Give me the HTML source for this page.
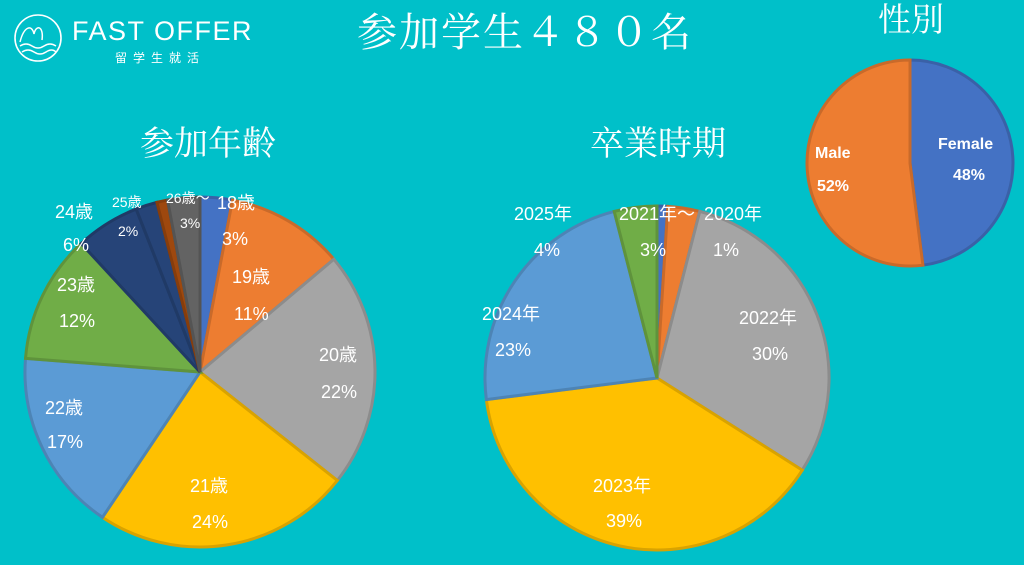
<!DOCTYPE html>
<html><head><meta charset="utf-8"><style>
html,body{margin:0;padding:0}
body{width:1024px;height:565px;background:#00c0c9;overflow:hidden;position:relative;font-family:"Liberation Sans","Noto Sans CJK JP",sans-serif}
.t{position:absolute;color:#fff;font-family:"Liberation Serif","Noto Serif CJK SC",serif;white-space:nowrap;line-height:1}
svg{position:absolute;left:0;top:0}
</style></head><body>
<div style="position:absolute;left:12px;top:12px;width:260px;height:50px">
<svg width="52" height="52" viewBox="0 0 52 52" style="left:0;top:0"><circle cx="26" cy="26" r="23" fill="none" stroke="#fff" stroke-width="1.6"/><path d="M8 30 C12 14 20 12 22 22 C24 12 32 14 30 28 M8 34 Q14 30 20 34 T32 34 T44 34 M10 40 Q16 36 22 40 T34 40 T44 40" fill="none" stroke="#fff" stroke-width="1.5"/></svg>
<div style="position:absolute;left:60px;top:4px;color:#fff;font-size:27px;letter-spacing:1.5px;font-family:'Liberation Sans',sans-serif">FAST OFFER</div>
<div style="position:absolute;left:103px;top:37px;color:#fff;font-size:12px;letter-spacing:6px;font-family:'Liberation Sans','Noto Sans CJK JP',sans-serif">留学生就活</div>
</div>
<div class="t" style="left:357px;top:13px;font-size:40px;letter-spacing:2px">参加学生４８０名</div>
<div class="t" style="left:140px;top:128px;font-size:34px">参加年齢</div>
<div class="t" style="left:590px;top:128px;font-size:34px">卒業時期</div>
<div class="t" style="left:878px;top:5px;font-size:33px">性別</div>
<svg id="chart" width="1024" height="565"></svg>
<script>
const ageCats=["18歳","19歳","20歳","21歳","22歳","23歳","24歳","25歳","other","26歳～"];
const ageVals=[3,11,22,24,17,12,6,2,1,3];
const ageColors=["#4472c4","#ed7d31","#a5a5a5","#ffc000","#5b9bd5","#70ad47","#264478","#264478","#9e480e","#636363"];
const gradCats=["2020年","2021年～","2022年","2023年","2024年","2025年"];
const gradVals=[1,3,30,39,23,4];
const gradColors=["#4472c4","#ed7d31","#a5a5a5","#ffc000","#5b9bd5","#70ad47"];
const genCats=["Female","Male"];
const genVals=[48,52];
const genColors=["#4472c4","#ed7d31"];
const ns="http://www.w3.org/2000/svg";
const svg=document.getElementById("chart");
function shade(c){const n=parseInt(c.slice(1),16);const f=v=>Math.round(v*0.85);return "rgb("+f(n>>16)+","+f((n>>8)&255)+","+f(n&255)+")";}
function pie(cx,cy,r,vals,cols,cats,name){
  const tot=vals.reduce((a,b)=>a+b,0);let a0=-Math.PI/2;
  vals.forEach((v,i)=>{
    const a1=a0+v/tot*2*Math.PI;
    const x0=cx+r*Math.cos(a0),y0=cy+r*Math.sin(a0),x1=cx+r*Math.cos(a1),y1=cy+r*Math.sin(a1);
    const p=document.createElementNS(ns,"path");
    p.setAttribute("d",`M${cx},${cy} L${x0},${y0} A${r},${r} 0 ${a1-a0>Math.PI?1:0} 1 ${x1},${y1} Z`);
    p.setAttribute("fill",cols[i]);p.setAttribute("stroke",shade(cols[i]));p.setAttribute("stroke-width","3");
    
    
    svg.appendChild(p);a0=a1;
  });
}
pie(200,372,175,ageVals,ageColors,ageCats,"age");
pie(657,378,172,gradVals,gradColors,gradCats,"grad");
pie(910,163,103,genVals,genColors,genCats,"gender");
const labels=[
 ["18歳",217,209,18],["3%",222,245,18],["19歳",232,283,18],["11%",234,320,18],
 ["20歳",319,361,18],["22%",321,398,18],["21歳",190,492,18],["24%",192,528,18],
 ["22歳",45,414,18],["17%",47,448,18],["23歳",57,291,18],["12%",59,327,18],
 ["24歳",55,218,18],["6%",63,251,18],["25歳",112,207,14],["2%",118,236,14],
 ["26歳～",166,203,14],["3%",180,228,14],
 ["2025年",514,220,18],["4%",534,256,18],["2021年～",619,220,18],["3%",640,256,18],
 ["2020年",704,220,18],["1%",713,256,18],["2022年",739,324,18],["30%",752,360,18],
 ["2023年",593,492,18],["39%",606,527,18],["2024年",482,320,18],["23%",495,356,18],
 ["Female",938,149,16],["48%",953,180,16],["Male",815,158,16],["52%",817,191,16]
];
labels.forEach((l,i)=>{
  const t=document.createElementNS(ns,"text");
  t.setAttribute("x",l[1]);t.setAttribute("y",l[2]);t.setAttribute("font-size",l[3]);t.setAttribute("fill","#fff");
  t.setAttribute("font-family","'Liberation Sans','Noto Sans CJK JP',sans-serif");
  if(l[0]==="Female"||l[0]==="Male"||l[0]==="48%"||l[0]==="52%")t.setAttribute("font-weight","bold");
  t.textContent=l[0];
  
  
  svg.appendChild(t);
});
</script>
</body></html>
